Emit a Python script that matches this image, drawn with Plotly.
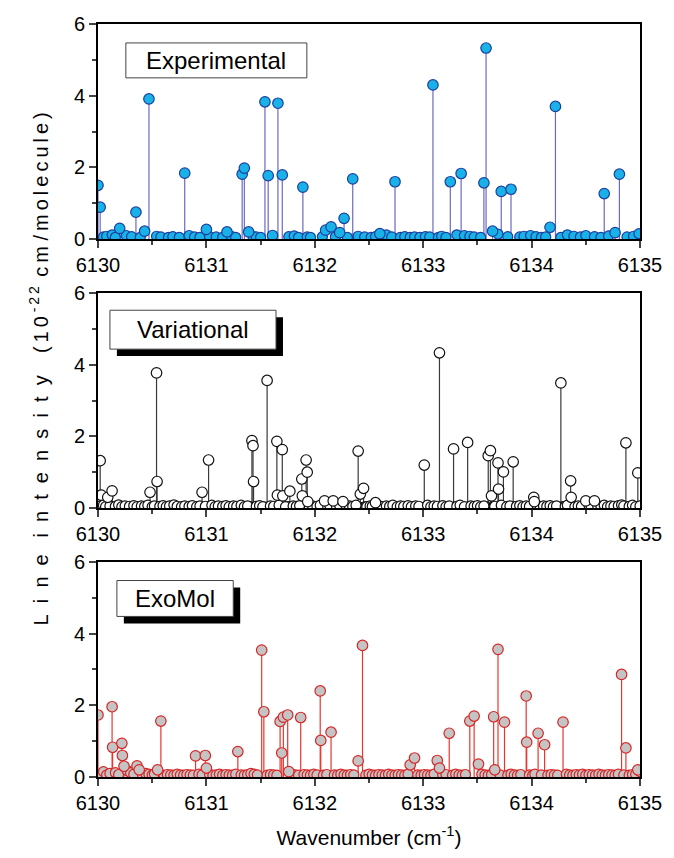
import plotly.graph_objects as go
from plotly.subplots import make_subplots

# DATA -----------------------------------------------------------------------
# Experimental
exp_strong_x = [6130.00, 6130.02, 6130.20, 6130.35, 6130.43, 6130.47, 6130.80, 6131.00, 6131.19,
                6131.33, 6131.35, 6131.39, 6131.54, 6131.57, 6131.61, 6131.66, 6131.70, 6131.89,
                6132.10, 6132.15, 6132.23, 6132.27, 6132.35, 6132.60, 6132.74, 6133.09, 6133.25,
                6133.35, 6133.56, 6133.58, 6133.64, 6133.72, 6133.81, 6134.17, 6134.22, 6134.67,
                6134.77, 6134.81]
exp_strong_y = [1.50, 0.89, 0.30, 0.75, 0.22, 3.91, 1.84, 0.27, 0.20,
                1.81, 1.98, 0.20, 3.83, 1.77, 0.10, 3.79, 1.79, 1.45,
                0.25, 0.34, 0.18, 0.58, 1.68, 0.15, 1.60, 4.30, 1.60,
                1.83, 1.57, 5.33, 0.22, 1.33, 1.39, 0.33, 3.70, 1.27,
                0.18, 1.81]
exp_weak_x = [6130.05, 6130.08, 6130.13, 6130.16, 6130.26, 6130.31, 6130.39, 6130.54, 6130.58,
              6130.65, 6130.69, 6130.75, 6130.84, 6130.89, 6130.94, 6131.03, 6131.09, 6131.15,
              6131.23, 6131.27, 6131.43, 6131.46, 6131.50, 6131.76, 6131.81, 6131.85, 6131.93,
              6131.96, 6132.07, 6132.19, 6132.30, 6132.40, 6132.46, 6132.52, 6132.56, 6132.66,
              6132.71, 6132.79, 6132.83, 6132.88, 6132.92, 6132.97, 6133.02, 6133.06, 6133.14,
              6133.17, 6133.21, 6133.31, 6133.38, 6133.43, 6133.47, 6133.53, 6133.69, 6133.78,
              6133.89, 6133.93, 6133.99, 6134.04, 6134.09, 6134.13, 6134.27, 6134.33, 6134.39,
              6134.45, 6134.50, 6134.58, 6134.64, 6134.71, 6134.88, 6134.94, 6134.99]
exp_weak_y = [0.06, 0.08, 0.12, 0.05, 0.10, 0.07, 0.05, 0.08, 0.06,
              0.05, 0.07, 0.05, 0.10, 0.06, 0.05, 0.07, 0.06, 0.05,
              0.08, 0.05, 0.07, 0.06, 0.05, 0.07, 0.09, 0.05, 0.06,
              0.05, 0.07, 0.06, 0.05, 0.08, 0.06, 0.05, 0.07, 0.12,
              0.06, 0.05, 0.07, 0.05, 0.06, 0.05, 0.07, 0.06, 0.05,
              0.08, 0.05, 0.12, 0.10, 0.08, 0.06, 0.05, 0.14, 0.07,
              0.06, 0.08, 0.10, 0.07, 0.05, 0.06, 0.05, 0.12, 0.08,
              0.06, 0.10, 0.07, 0.05, 0.09, 0.06, 0.08, 0.15]

# Variational
var_strong_x = [6130.02, 6130.03, 6130.09, 6130.13, 6130.48, 6130.54, 6130.545, 6130.96, 6131.02,
                6131.42, 6131.43, 6131.435, 6131.56, 6131.65, 6131.655, 6131.70, 6131.705, 6131.77,
                6131.88, 6131.885, 6131.92, 6131.93, 6131.935, 6132.09, 6132.17, 6132.26, 6132.40,
                6132.42, 6132.45, 6132.56, 6133.01, 6133.15, 6133.28, 6133.41, 6133.60, 6133.62,
                6133.63, 6133.69, 6133.695, 6133.74, 6133.83, 6134.02, 6134.025, 6134.27, 6134.36,
                6134.365, 6134.50, 6134.58, 6134.87, 6134.98]
var_strong_y = [1.32, 0.36, 0.30, 0.48, 0.44, 3.77, 0.74, 0.44, 1.34,
                1.88, 1.74, 0.74, 3.56, 1.86, 0.36, 1.63, 0.34, 0.47,
                0.81, 0.34, 1.34, 1.00, 0.18, 0.20, 0.20, 0.18, 1.59,
                0.39, 0.55, 0.15, 1.20, 4.33, 1.65, 1.83, 1.46, 1.60,
                0.34, 1.26, 0.53, 1.01, 1.29, 0.30, 0.18, 3.49, 0.76,
                0.30, 0.20, 0.20, 1.82, 0.98]
var_weak_x = [6130.01, 6130.05, 6130.07, 6130.11, 6130.16, 6130.19, 6130.22, 6130.25, 6130.29,
              6130.33, 6130.36, 6130.40, 6130.43, 6130.46, 6130.50, 6130.52, 6130.57, 6130.60,
              6130.63, 6130.66, 6130.70, 6130.73, 6130.77, 6130.80, 6130.84, 6130.87, 6130.91,
              6130.94, 6130.99, 6131.05, 6131.08, 6131.11, 6131.15, 6131.18, 6131.21, 6131.25,
              6131.28, 6131.32, 6131.35, 6131.38, 6131.46, 6131.49, 6131.52, 6131.59, 6131.62,
              6131.67, 6131.73, 6131.80, 6131.83, 6131.86, 6131.95, 6131.98, 6132.02, 6132.05,
              6132.12, 6132.14, 6132.20, 6132.23, 6132.29, 6132.32, 6132.35, 6132.38, 6132.48,
              6132.51, 6132.53, 6132.59, 6132.62, 6132.66, 6132.69, 6132.72, 6132.76, 6132.79,
              6132.82, 6132.86, 6132.89, 6132.93, 6132.96, 6133.04, 6133.07, 6133.10, 6133.13,
              6133.18, 6133.21, 6133.24, 6133.31, 6133.34, 6133.38, 6133.44, 6133.47, 6133.50,
              6133.53, 6133.56, 6133.66, 6133.72, 6133.77, 6133.80, 6133.86, 6133.89, 6133.92,
              6133.95, 6133.98, 6134.05, 6134.08, 6134.11, 6134.14, 6134.17, 6134.20, 6134.23,
              6134.31, 6134.33, 6134.40, 6134.43, 6134.46, 6134.53, 6134.55, 6134.61, 6134.64,
              6134.67, 6134.70, 6134.73, 6134.76, 6134.80, 6134.83, 6134.85, 6134.90, 6134.93,
              6134.96, 6135.00]
var_weak_y = [0.05, 0.08, 0.04, 0.06, 0.05, 0.09, 0.04, 0.06, 0.05,
              0.07, 0.04, 0.06, 0.05, 0.08, 0.04, 0.06, 0.05, 0.07,
              0.04, 0.06, 0.09, 0.05, 0.04, 0.06, 0.05, 0.07, 0.04,
              0.06, 0.05, 0.08, 0.04, 0.06, 0.05, 0.07, 0.04, 0.06,
              0.05, 0.08, 0.04, 0.06, 0.05, 0.07, 0.04, 0.06, 0.05,
              0.08, 0.04, 0.06, 0.05, 0.07, 0.04, 0.06, 0.05, 0.08,
              0.04, 0.06, 0.05, 0.07, 0.04, 0.06, 0.05, 0.08, 0.04,
              0.06, 0.05, 0.07, 0.04, 0.06, 0.05, 0.08, 0.04, 0.06,
              0.05, 0.07, 0.04, 0.06, 0.05, 0.08, 0.04, 0.06, 0.05,
              0.07, 0.04, 0.06, 0.05, 0.08, 0.04, 0.06, 0.05, 0.07,
              0.04, 0.06, 0.05, 0.08, 0.04, 0.06, 0.05, 0.07, 0.04,
              0.06, 0.05, 0.08, 0.04, 0.06, 0.05, 0.07, 0.04, 0.06,
              0.05, 0.08, 0.04, 0.06, 0.05, 0.07, 0.04, 0.06, 0.05,
              0.08, 0.04, 0.06, 0.05, 0.07, 0.09, 0.06, 0.05, 0.08,
              0.04, 0.06]
# very faint lines that crowd the Variational baseline
var_faint_x = [6130.03, 6130.09, 6130.14, 6130.18, 6130.21, 6130.27, 6130.31, 6130.35, 6130.38,
               6130.42, 6130.45, 6130.48, 6130.56, 6130.59, 6130.62, 6130.65, 6130.68, 6130.72,
               6130.75, 6130.79, 6130.82, 6130.86, 6130.89, 6130.93, 6130.97, 6131.01, 6131.04,
               6131.07, 6131.10, 6131.13, 6131.17, 6131.20, 6131.23, 6131.27, 6131.30, 6131.34,
               6131.37, 6131.40, 6131.45, 6131.48, 6131.51, 6131.54, 6131.58, 6131.61, 6131.64,
               6131.69, 6131.72, 6131.75, 6131.79, 6131.82, 6131.85, 6131.90, 6131.94, 6131.97,
               6132.01, 6132.04, 6132.07, 6132.11, 6132.16, 6132.19, 6132.22, 6132.25, 6132.28,
               6132.31, 6132.34, 6132.37, 6132.44, 6132.47, 6132.50, 6132.55, 6132.58, 6132.61,
               6132.64, 6132.67, 6132.71, 6132.74, 6132.78, 6132.81, 6132.84, 6132.88, 6132.91,
               6132.95, 6132.98, 6133.03, 6133.06, 6133.09, 6133.12, 6133.17, 6133.20, 6133.23,
               6133.26, 6133.30, 6133.33, 6133.36, 6133.40, 6133.43, 6133.46, 6133.49, 6133.52,
               6133.55, 6133.58, 6133.65, 6133.68, 6133.71, 6133.76, 6133.79, 6133.82, 6133.85,
               6133.88, 6133.91, 6133.94, 6133.97, 6134.00, 6134.04, 6134.07, 6134.10, 6134.13,
               6134.16, 6134.19, 6134.22, 6134.25, 6134.29, 6134.32, 6134.35, 6134.38, 6134.42,
               6134.45, 6134.48, 6134.52, 6134.57, 6134.60, 6134.63, 6134.66, 6134.69, 6134.72,
               6134.75, 6134.78, 6134.82, 6134.86, 6134.89, 6134.92, 6134.95, 6134.99]
var_faint_y = [0.02, 0.03, 0.01, 0.02, 0.03, 0.02, 0.01, 0.03, 0.02,
               0.02, 0.01, 0.03, 0.02, 0.03, 0.01, 0.02, 0.03, 0.02,
               0.01, 0.03, 0.02, 0.02, 0.01, 0.03, 0.02, 0.03, 0.01,
               0.02, 0.03, 0.02, 0.01, 0.03, 0.02, 0.02, 0.01, 0.03,
               0.02, 0.03, 0.01, 0.02, 0.03, 0.02, 0.01, 0.03, 0.02,
               0.02, 0.01, 0.03, 0.02, 0.03, 0.01, 0.02, 0.03, 0.02,
               0.01, 0.03, 0.02, 0.02, 0.01, 0.03, 0.02, 0.03, 0.01,
               0.02, 0.03, 0.02, 0.01, 0.03, 0.02, 0.02, 0.01, 0.03,
               0.02, 0.03, 0.01, 0.02, 0.03, 0.02, 0.01, 0.03, 0.02,
               0.02, 0.01, 0.03, 0.02, 0.03, 0.01, 0.02, 0.03, 0.02,
               0.01, 0.03, 0.02, 0.02, 0.01, 0.03, 0.02, 0.03, 0.01,
               0.02, 0.03, 0.02, 0.01, 0.03, 0.02, 0.02, 0.01, 0.03,
               0.02, 0.03, 0.01, 0.02, 0.03, 0.02, 0.01, 0.03, 0.02,
               0.02, 0.01, 0.03, 0.02, 0.03, 0.01, 0.02, 0.03, 0.02,
               0.01, 0.03, 0.02, 0.02, 0.01, 0.03, 0.02, 0.03, 0.01,
               0.02, 0.03, 0.02, 0.01, 0.03, 0.02, 0.02, 0.01]

# ExoMol
exo_strong_x = [6130.00, 6130.13, 6130.135, 6130.22, 6130.225, 6130.24, 6130.36, 6130.38, 6130.55,
                6130.58, 6130.90, 6130.99, 6131.00, 6131.29, 6131.51, 6131.53, 6131.68, 6131.695,
                6131.71, 6131.75, 6131.76, 6131.87, 6132.05, 6132.055, 6132.15, 6132.40, 6132.44,
                6132.88, 6132.92, 6133.13, 6133.15, 6133.24, 6133.43, 6133.47, 6133.51, 6133.65,
                6133.66, 6133.69, 6133.75, 6133.95, 6133.955, 6134.06, 6134.12, 6134.29, 6134.83,
                6134.87, 6134.98]
exo_strong_y = [1.73, 1.96, 0.83, 0.94, 0.60, 0.30, 0.31, 0.20, 0.20,
                1.56, 0.59, 0.60, 0.25, 0.71, 3.54, 1.82, 1.55, 0.67,
                1.67, 1.73, 0.15, 1.66, 2.40, 1.02, 1.25, 0.45, 3.67,
                0.34, 0.53, 0.46, 0.25, 1.22, 1.56, 1.70, 0.36, 1.68,
                0.20, 3.56, 1.53, 2.26, 0.97, 1.22, 0.90, 1.53, 2.86,
                0.81, 0.20]
exo_weak_x = [6130.02, 6130.05, 6130.08, 6130.11, 6130.16, 6130.19, 6130.27, 6130.30, 6130.33,
              6130.41, 6130.44, 6130.47, 6130.50, 6130.52, 6130.61, 6130.64, 6130.67, 6130.70,
              6130.73, 6130.76, 6130.79, 6130.82, 6130.85, 6130.88, 6130.93, 6130.96, 6131.03,
              6131.06, 6131.09, 6131.12, 6131.15, 6131.18, 6131.21, 6131.24, 6131.27, 6131.32,
              6131.35, 6131.38, 6131.41, 6131.44, 6131.47, 6131.56, 6131.59, 6131.62, 6131.65,
              6131.79, 6131.82, 6131.85, 6131.90, 6131.93, 6131.96, 6131.99, 6132.02, 6132.08,
              6132.11, 6132.18, 6132.21, 6132.24, 6132.27, 6132.30, 6132.33, 6132.36, 6132.47,
              6132.50, 6132.53, 6132.56, 6132.59, 6132.62, 6132.65, 6132.68, 6132.71, 6132.74,
              6132.77, 6132.80, 6132.83, 6132.86, 6132.95, 6132.98, 6133.01, 6133.04, 6133.07,
              6133.10, 6133.18, 6133.21, 6133.27, 6133.30, 6133.33, 6133.36, 6133.39, 6133.54,
              6133.57, 6133.60, 6133.63, 6133.71, 6133.78, 6133.81, 6133.84, 6133.87, 6133.90,
              6133.98, 6134.01, 6134.03, 6134.09, 6134.15, 6134.18, 6134.21, 6134.24, 6134.32,
              6134.35, 6134.38, 6134.41, 6134.44, 6134.47, 6134.50, 6134.53, 6134.56, 6134.59,
              6134.62, 6134.65, 6134.68, 6134.71, 6134.74, 6134.77, 6134.80, 6134.85, 6134.90,
              6134.93, 6134.96, 6135.00]
exo_weak_y = [0.08, 0.15, 0.06, 0.10, 0.12, 0.07, 0.18, 0.12, 0.08,
              0.06, 0.10, 0.08, 0.06, 0.09, 0.05, 0.07, 0.06, 0.05,
              0.08, 0.06, 0.05, 0.07, 0.06, 0.05, 0.08, 0.06, 0.07,
              0.05, 0.06, 0.08, 0.05, 0.07, 0.06, 0.05, 0.08, 0.06,
              0.05, 0.07, 0.10, 0.08, 0.06, 0.05, 0.07, 0.06, 0.05,
              0.08, 0.06, 0.05, 0.07, 0.06, 0.05, 0.08, 0.06, 0.05,
              0.07, 0.06, 0.05, 0.08, 0.06, 0.05, 0.07, 0.06, 0.05,
              0.08, 0.06, 0.05, 0.07, 0.06, 0.05, 0.08, 0.06, 0.05,
              0.07, 0.06, 0.05, 0.08, 0.06, 0.05, 0.07, 0.06, 0.05,
              0.08, 0.06, 0.07, 0.05, 0.08, 0.06, 0.05, 0.07, 0.08,
              0.06, 0.05, 0.07, 0.06, 0.05, 0.08, 0.06, 0.05, 0.07,
              0.06, 0.05, 0.08, 0.06, 0.05, 0.07, 0.06, 0.05, 0.08,
              0.06, 0.05, 0.07, 0.06, 0.08, 0.05, 0.07, 0.06, 0.05,
              0.08, 0.06, 0.05, 0.07, 0.06, 0.05, 0.08, 0.06, 0.05,
              0.07, 0.08, 0.15]

panel_names = ["Experimental", "Variational", "ExoMol"]
x_ticks = [6130, 6131, 6132, 6133, 6134, 6135]
y_ticks = [0, 2, 4, 6]

FONT = "Liberation Sans, Arial, sans-serif"

# styles per panel: (stem colour, marker fill, marker outline)
styles = [
    ("#6a6ac4", "#19b2e8", "#1d3f9e"),
    ("#3a3a3a", "#ffffff", "#111111"),
    ("#e8362e", "#c4c4c4", "#d92424"),
]

series = [
    ([], [], exp_weak_x, exp_weak_y, exp_strong_x, exp_strong_y),
    (var_faint_x, var_faint_y, var_weak_x, var_weak_y, var_strong_x, var_strong_y),
    ([], [], exo_weak_x, exo_weak_y, exo_strong_x, exo_strong_y),
]

fig = make_subplots(rows=3, cols=1, vertical_spacing=54 / 755)

for i, (fx, fy, wx, wy, sx, sy) in enumerate(series):
    row = i + 1
    stem_c, fill_c, edge_c = styles[i]
    xs = list(fx) + list(wx) + list(sx)
    ys = list(fy) + list(wy) + list(sy)
    # stems
    lx, ly = [], []
    for x, y in zip(xs, ys):
        lx += [x, x, None]
        ly += [0, y, None]
    fig.add_trace(go.Scatter(x=lx, y=ly, mode="lines",
                             line=dict(color=stem_c, width=1.2),
                             hoverinfo="skip", showlegend=False), row=row, col=1)
    if fx:
        fig.add_trace(go.Scatter(x=fx, y=fy, mode="markers",
                                 marker=dict(size=10, color=fill_c, line=dict(color=edge_c, width=1.8)),
                                 showlegend=False), row=row, col=1)
    # weak lines then strong ones on top
    fig.add_trace(go.Scatter(x=wx, y=wy, mode="markers",
                             marker=dict(size=10, color=fill_c, line=dict(color=edge_c, width=1.2)),
                             showlegend=False), row=row, col=1)
    fig.add_trace(go.Scatter(x=sx, y=sy, mode="markers",
                             marker=dict(size=10.5, color=fill_c, line=dict(color=edge_c, width=1.2)),
                             showlegend=False), row=row, col=1)

fig.update_xaxes(range=[6130, 6135], tickvals=x_ticks, ticks="outside", ticklen=7, tickwidth=1.5,
                 minor=dict(dtick=0.5, ticks="outside", ticklen=4, tickwidth=1.5, tick0=6130),
                 showline=True, linewidth=2, linecolor="black", mirror=True,
                 showgrid=False, zeroline=False,
                 tickfont=dict(family=FONT, size=20, color="black"))
fig.update_yaxes(range=[0, 6], tickvals=y_ticks, ticks="outside", ticklen=7, tickwidth=1.5,
                 minor=dict(dtick=1, ticks="outside", ticklen=4, tickwidth=1.5),
                 showline=True, linewidth=2, linecolor="black", mirror=True,
                 showgrid=False, zeroline=False,
                 tickfont=dict(family=FONT, size=20, color="black"))

fig.update_xaxes(title=dict(text="Wavenumber (cm<sup>-1</sup>)", standoff=17,
                            font=dict(family=FONT, size=21, color="black")), row=3, col=1)


# legend-like labels (page pixel boxes converted to paper coordinates)
def px2paper(px, py):
    return (px - 98) / 545, (779 - py) / 755


boxes = [  # x0, y0, x1, y1, shadow
    (126, 43, 308, 78, False),
    (110, 311, 277, 350, True),
    (117, 582, 234, 618, True),
]
for name, (x0, y0, x1, y1, shadow) in zip(panel_names, boxes):
    if shadow:
        a0, b0 = px2paper(x0 + 7, y0 + 7)
        a1, b1 = px2paper(x1 + 7, y1 + 7)
        fig.add_shape(type="rect", xref="paper", yref="paper", x0=a0, y0=b1, x1=a1, y1=b0,
                      fillcolor="black", line=dict(width=0), layer="above")
    a0, b0 = px2paper(x0, y0)
    a1, b1 = px2paper(x1, y1)
    fig.add_shape(type="rect", xref="paper", yref="paper", x0=a0, y0=b1, x1=a1, y1=b0,
                  fillcolor="white", line=dict(color="#444444", width=1), layer="above")
    fig.add_annotation(text=name, xref="paper", yref="paper", x=(a0 + a1) / 2, y=(b0 + b1) / 2,
                       showarrow=False, xanchor="center", yanchor="middle",
                       font=dict(family=FONT, size=24, color="black"))

# y title: widely spaced "Line intensity" + stretched units
nb = "\u00a0"
th = "\u2009"
spaced = (nb * 2).join("Line") + nb * 3 + (nb * 2).join("intensity")
units = (th.join("(10") + th + "<sup>" + th.join("-22") + "</sup>" + th + nb
         + th.join("cm") + nb + th.join("/molecule)"))
ytitle = spaced + nb * 4 + units
tx, ty = px2paper(38, 370)
fig.add_annotation(text=ytitle, xref="paper", yref="paper", x=tx, y=ty, textangle=-90,
                   showarrow=False, xanchor="center", yanchor="middle",
                   font=dict(family=FONT, size=20, color="black"))

fig.update_layout(width=674, height=858, margin=dict(l=98, r=31, t=24, b=79),
                  plot_bgcolor="white", paper_bgcolor="white", showlegend=False)

# drop the default page margin so the figure sits flush in the window
fig.write_html("out.html", config={"displayModeBar": False},
               post_script="document.body.style.margin='0px';document.body.style.overflow='hidden';")
